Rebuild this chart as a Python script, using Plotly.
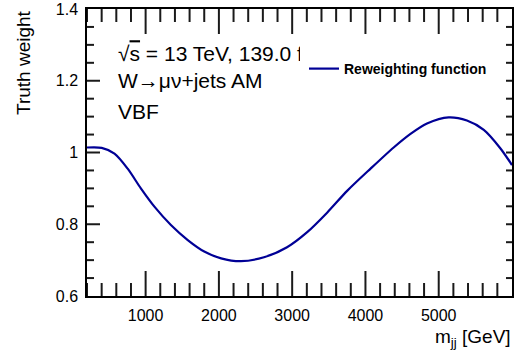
import plotly.graph_objects as go

# Dijet invariant mass [GeV] and the truth-level reweighting factor
mjj = [200, 400, 575, 755, 935, 1120, 1345, 1575, 1800, 2030, 2300, 2615,
       2930, 3205, 3480, 3750, 4070, 4385, 4615, 4840, 5135, 5385, 5615,
       5840, 6000]
weight = [1.014, 1.013, 0.997, 0.955, 0.900, 0.849, 0.798, 0.756, 0.724,
          0.705, 0.697, 0.708, 0.736, 0.778, 0.833, 0.893, 0.955, 1.014,
          1.052, 1.081, 1.098, 1.089, 1.063, 1.012, 0.965]

series_name = "Reweighting function"
x_title = "m<sub>jj</sub> [GeV]"
y_title = "Truth weight"
info_lines = ["√<span style='text-decoration:overline'>s</span> = 13 TeV, 139.0 fb<sup>-1</sup>",
              "W→μν+jets AM",
              "VBF"]

# axis ranges and tick positions
x_range = [200, 6000]
y_range = [0.6, 1.4]
x_major = [1000, 2000, 3000, 4000, 5000]
x_minor = [v for v in range(200, 6001, 200) if v % 1000]
y_major = [0.6, 0.8, 1.0, 1.2, 1.4]
y_major_text = ["0.6", "0.8", "1", "1.2", "1.4"]
y_minor = [round(0.6 + 0.05 * k, 2) for k in range(1, 16) if k % 4]

W, H = 519, 354
L, R, T, B = 87, 7, 9, 58
PW, PH = W - L - R, H - T - B
XS = (x_range[1] - x_range[0]) / PW   # data units per pixel
YS = (y_range[1] - y_range[0]) / PH


def px(x):
    return (x - L) / PW


def py(y):
    return (H - B - y) / PH


def ydata(y):
    return y_range[0] + py(y) * (y_range[1] - y_range[0])


def xdata(x):
    return x_range[0] + px(x) * (x_range[1] - x_range[0])


FONT = "Liberation Sans, Arial, sans-serif"
TICK = dict(color="#1a1a1a", width=2)

fig = go.Figure()

# header text, drawn as a text trace so the legend panel sits above it
for line, ypix in zip(info_lines, [56, 83, 114]):
    fig.add_trace(go.Scatter(
        x=[xdata(118)], y=[ydata(ypix)], mode="text", text=[line],
        textposition="middle right", showlegend=False, hoverinfo="skip",
        textfont=dict(family=FONT, size=21, color="black"),
    ))

# inward ticks along the bottom and top edges
bx, by = [], []
for v in x_major + x_minor:
    n = (25 if v in x_major else 13) * YS
    bx += [v, v, None, v, v, None]
    by += [y_range[0], y_range[0] + n, None, y_range[1], y_range[1] - n, None]
fig.add_trace(go.Scatter(x=bx, y=by, mode="lines", showlegend=False,
                         hoverinfo="skip", line=TICK))

# inward ticks along the left and right edges
lx, ly = [], []
for v in y_major[1:-1] + y_minor:
    n = (13 if v in y_major else 7) * XS
    lx += [x_range[0], x_range[0] + n, None, x_range[1], x_range[1] - 6 * XS, None]
    ly += [v, v, None, v, v, None]
fig.add_trace(go.Scatter(x=lx, y=ly, mode="lines", showlegend=False,
                         hoverinfo="skip", line=TICK))

fig.add_trace(go.Scatter(
    x=mjj, y=weight, mode="lines", name=series_name,
    line=dict(color="#000096", width=2.2, shape="spline", smoothing=0.8),
))

axis_common = dict(
    showline=True, linecolor="black", linewidth=1.5, mirror=True,
    showgrid=False, zeroline=False, ticks="",
    tickfont=dict(family=FONT, size=16, color="black"),
)
fig.update_xaxes(range=x_range, tickvals=x_major, ticklabelstandoff=4, **axis_common)
fig.update_yaxes(range=y_range, tickvals=y_major, ticktext=y_major_text,
                 ticklabelstandoff=4, **axis_common)

# white panel behind the legend entry
shapes = [dict(type="rect", xref="paper", yref="paper",
               x0=px(300), x1=px(498), y0=py(90), y1=py(35),
               fillcolor="white", line=dict(width=0), layer="above")]

annotations = [
    dict(text=y_title, x=px(23), y=py(63), xref="paper", yref="paper",
         textangle=-90, showarrow=False, xanchor="center", yanchor="middle",
         font=dict(family=FONT, size=19, color="black")),
    dict(text=x_title, x=px(513), y=py(338), xref="paper", yref="paper",
         showarrow=False, xanchor="right", yanchor="middle",
         font=dict(family=FONT, size=19, color="black")),
]

fig.update_layout(
    width=W, height=H,
    margin=dict(l=L, r=R, t=T, b=B, autoexpand=False),
    paper_bgcolor="white", plot_bgcolor="white",
    showlegend=True,
    legend=dict(
        x=px(304), y=py(69), xanchor="left", yanchor="middle",
        bgcolor="white", borderwidth=0, itemwidth=30,
        font=dict(family=FONT, size=14, color="black", weight="bold"),
    ),
    shapes=shapes,
    annotations=annotations,
)

fig.write_html("out.html")
